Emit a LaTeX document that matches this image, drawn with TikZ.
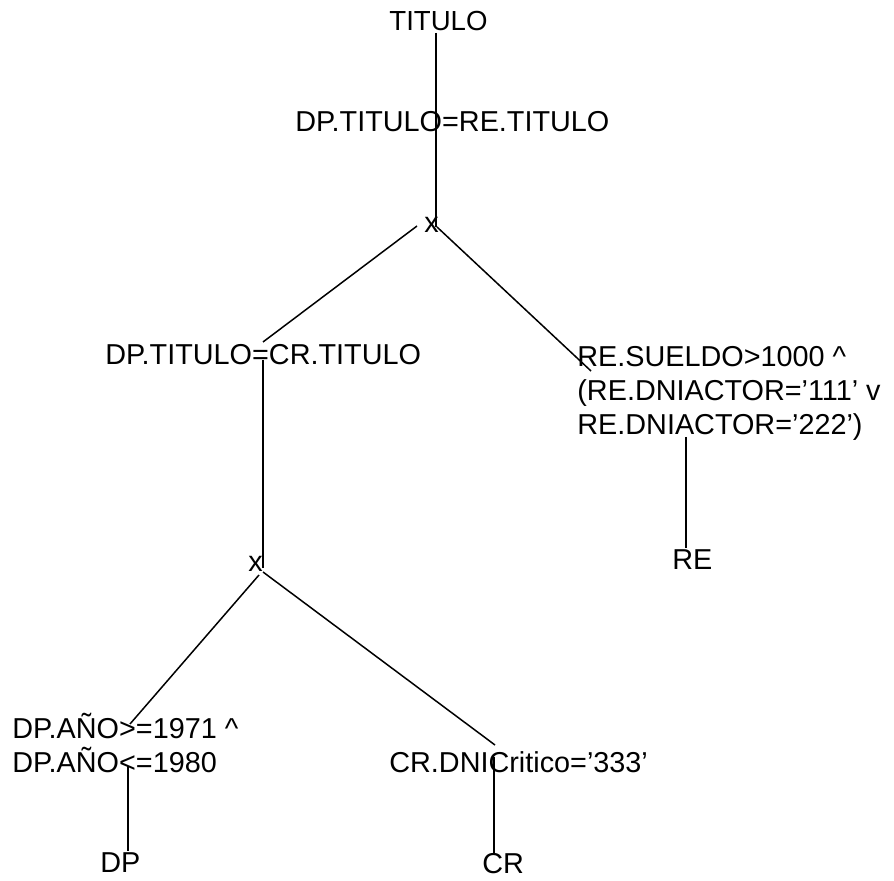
\documentclass[tikz,border=0pt]{standalone}
\usepackage{fontspec}
\setmainfont{Liberation Sans}
\begin{document}
\begin{tikzpicture}[x=0.5pt,y=-0.5pt,
  lbl/.style={anchor=base west,inner sep=0pt,align=left,font=\fontsize{14.4}{17}\selectfont},
  edge/.style={draw=black,line width=0.75pt}]
\useasboundingbox (0,0) rectangle (894,881);
% labels
\node[lbl,font=\fontsize{13.8}{17}\selectfont] (titulo) at (389,31) {TITULO};
\node[lbl] (sel1) at (295,132) {DP.TITULO=RE.TITULO};
\node[lbl] (x1) at (424,233) {x};
\node[lbl] (sel2) at (105,365) {DP.TITULO=CR.TITULO};
\node[lbl] (sel3) at (577,435) {RE.SUELDO>1000 \^{}\\(RE.DNIACTOR=’111’ v\\RE.DNIACTOR=’222’)};
\node[lbl] (x2) at (248,572) {x};
\node[lbl] (re) at (672,570) {RE};
\node[lbl] (sel4) at (12,772) {DP.AÑO>=1971 \^{}\\DP.AÑO<=1980};
\node[lbl] (sel5) at (389,772) {CR.DNICritico=’333’};
\node[lbl] (dp) at (100,872) {DP};
\node[lbl] (cr) at (482,873) {CR};
% connector end points
\coordinate (a1) at (436,33);
\coordinate (a2) at (436,227);
\coordinate (b1) at (417,226);
\coordinate (b2) at (263,342);
\coordinate (c1) at (437,227);
\coordinate (c2) at (591,371);
\coordinate (d1) at (263,360);
\coordinate (d2) at (263,568);
\coordinate (e1) at (259,575);
\coordinate (e2) at (130,724);
\coordinate (f1) at (263,572);
\coordinate (f2) at (495,745);
\coordinate (g1) at (686,437);
\coordinate (g2) at (686,548);
\coordinate (h1) at (128,766);
\coordinate (h2) at (128,851);
\coordinate (i1) at (494,757);
\coordinate (i2) at (494,853);
% connectors
\draw[edge] (a1) -- (a2);
\draw[edge] (b1) -- (b2);
\draw[edge] (c1) -- (c2);
\draw[edge] (d1) -- (d2);
\draw[edge] (e1) -- (e2);
\draw[edge] (f1) -- (f2);
\draw[edge] (g1) -- (g2);
\draw[edge] (h1) -- (h2);
\draw[edge] (i1) -- (i2);
\end{tikzpicture}
\end{document}
